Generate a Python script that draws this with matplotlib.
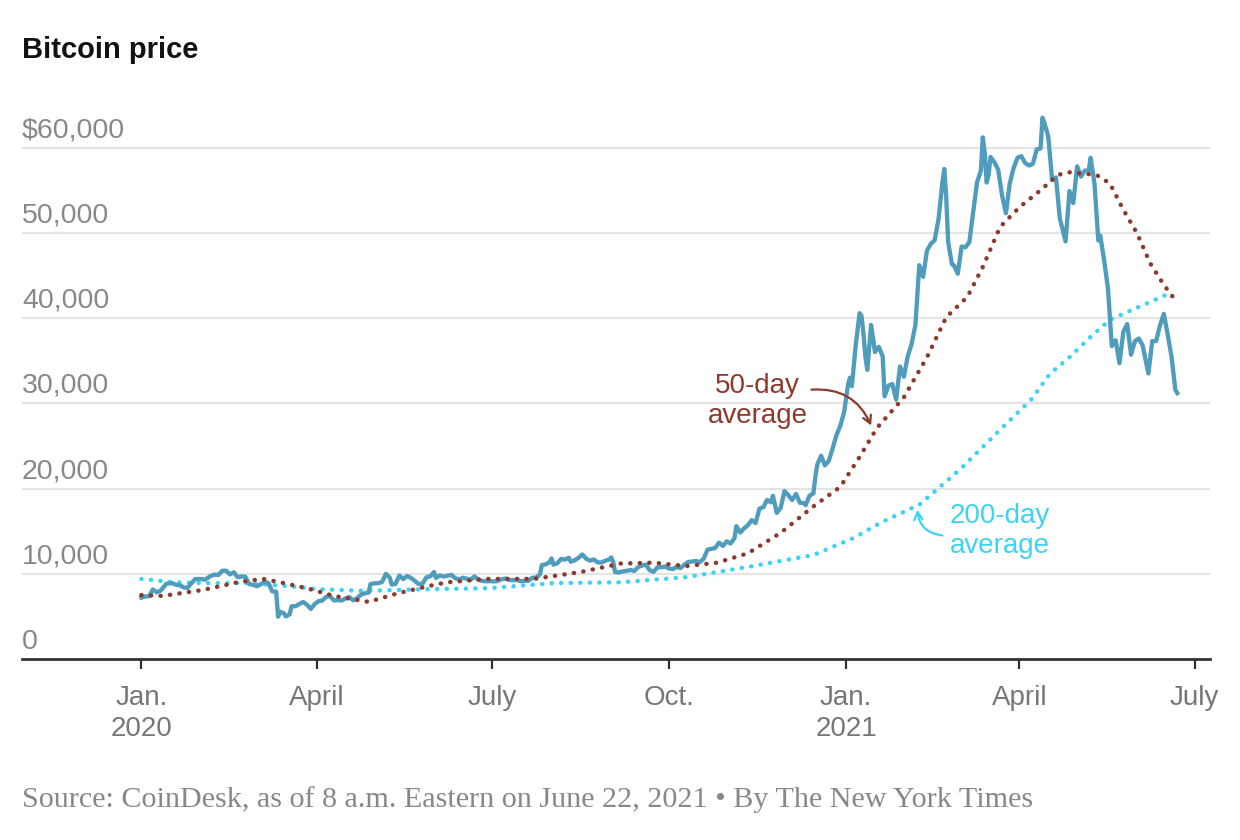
import matplotlib
matplotlib.use("Agg")
import matplotlib.pyplot as plt
import matplotlib.transforms as mtransforms
import pandas as pd

# ---------------- data ----------------
price_dates = [
    "2020-01-01", "2020-01-03", "2020-01-05", "2020-01-07", "2020-01-09", "2020-01-11", "2020-01-14",
    "2020-01-17", "2020-01-19", "2020-01-21", "2020-01-23", "2020-01-25", "2020-01-27", "2020-01-29",
    "2020-02-01", "2020-02-03", "2020-02-06", "2020-02-08", "2020-02-10", "2020-02-12", "2020-02-14",
    "2020-02-16", "2020-02-18", "2020-02-20", "2020-02-22", "2020-02-24", "2020-02-26", "2020-02-28",
    "2020-03-01", "2020-03-03", "2020-03-05", "2020-03-07", "2020-03-09", "2020-03-11", "2020-03-12",
    "2020-03-13", "2020-03-15", "2020-03-16", "2020-03-18", "2020-03-19", "2020-03-21", "2020-03-23",
    "2020-03-25", "2020-03-27", "2020-03-29", "2020-03-31", "2020-04-02", "2020-04-04", "2020-04-06",
    "2020-04-08", "2020-04-10", "2020-04-12", "2020-04-14", "2020-04-16", "2020-04-18", "2020-04-20",
    "2020-04-22", "2020-04-24", "2020-04-26", "2020-04-28", "2020-04-29", "2020-05-01", "2020-05-03",
    "2020-05-05", "2020-05-07", "2020-05-09", "2020-05-10", "2020-05-12", "2020-05-14", "2020-05-16",
    "2020-05-18", "2020-05-20", "2020-05-22", "2020-05-24", "2020-05-26", "2020-05-28", "2020-05-30",
    "2020-06-01", "2020-06-02", "2020-06-04", "2020-06-06", "2020-06-08", "2020-06-10", "2020-06-12",
    "2020-06-14", "2020-06-16", "2020-06-18", "2020-06-20", "2020-06-22", "2020-06-24", "2020-06-26",
    "2020-06-28", "2020-06-30", "2020-07-02", "2020-07-04", "2020-07-06", "2020-07-08", "2020-07-10",
    "2020-07-12", "2020-07-14", "2020-07-16", "2020-07-18", "2020-07-20", "2020-07-22", "2020-07-24",
    "2020-07-26", "2020-07-27", "2020-07-29", "2020-07-31", "2020-08-01", "2020-08-02", "2020-08-04",
    "2020-08-06", "2020-08-08", "2020-08-10", "2020-08-11", "2020-08-13", "2020-08-15", "2020-08-17",
    "2020-08-19", "2020-08-21", "2020-08-23", "2020-08-25", "2020-08-27", "2020-08-29", "2020-08-31",
    "2020-09-01", "2020-09-02", "2020-09-03", "2020-09-05", "2020-09-07", "2020-09-09", "2020-09-11",
    "2020-09-13", "2020-09-15", "2020-09-17", "2020-09-19", "2020-09-21", "2020-09-23", "2020-09-25",
    "2020-09-27", "2020-09-29", "2020-10-01", "2020-10-03", "2020-10-05", "2020-10-07", "2020-10-09",
    "2020-10-11", "2020-10-13", "2020-10-15", "2020-10-17", "2020-10-19", "2020-10-21", "2020-10-23",
    "2020-10-25", "2020-10-27", "2020-10-29", "2020-10-31", "2020-11-02", "2020-11-04", "2020-11-05",
    "2020-11-07", "2020-11-09", "2020-11-11", "2020-11-13", "2020-11-15", "2020-11-17", "2020-11-19",
    "2020-11-21", "2020-11-23", "2020-11-24", "2020-11-26", "2020-11-28", "2020-11-30", "2020-12-02",
    "2020-12-04", "2020-12-06", "2020-12-08", "2020-12-10", "2020-12-11", "2020-12-13", "2020-12-15",
    "2020-12-16", "2020-12-17", "2020-12-19", "2020-12-21", "2020-12-23", "2020-12-25", "2020-12-27",
    "2020-12-29", "2020-12-31",
    "2021-01-02", "2021-01-03", "2021-01-04", "2021-01-06", "2021-01-08", "2021-01-09", "2021-01-10",
    "2021-01-11", "2021-01-12", "2021-01-14", "2021-01-16", "2021-01-18", "2021-01-20", "2021-01-21",
    "2021-01-23", "2021-01-25", "2021-01-27", "2021-01-29", "2021-01-31", "2021-02-02", "2021-02-04",
    "2021-02-06", "2021-02-08", "2021-02-10", "2021-02-12", "2021-02-14", "2021-02-16", "2021-02-18",
    "2021-02-20", "2021-02-21", "2021-02-22", "2021-02-23", "2021-02-25", "2021-02-26", "2021-02-28",
    "2021-03-02", "2021-03-04", "2021-03-06", "2021-03-08", "2021-03-10", "2021-03-12", "2021-03-13",
    "2021-03-14", "2021-03-15", "2021-03-16", "2021-03-17", "2021-03-19", "2021-03-21", "2021-03-23",
    "2021-03-25", "2021-03-27", "2021-03-29", "2021-03-31", "2021-04-02", "2021-04-04", "2021-04-06",
    "2021-04-08", "2021-04-10", "2021-04-12", "2021-04-13", "2021-04-14", "2021-04-16", "2021-04-18",
    "2021-04-20", "2021-04-22", "2021-04-25", "2021-04-27", "2021-04-29", "2021-05-01", "2021-05-03",
    "2021-05-05", "2021-05-07", "2021-05-08", "2021-05-10", "2021-05-12", "2021-05-13", "2021-05-15",
    "2021-05-17", "2021-05-19", "2021-05-21", "2021-05-23", "2021-05-25", "2021-05-27", "2021-05-29",
    "2021-05-31", "2021-06-02", "2021-06-04", "2021-06-07", "2021-06-09", "2021-06-11", "2021-06-13",
    "2021-06-15", "2021-06-17", "2021-06-19", "2021-06-21", "2021-06-22",
]
price_values = [
    7200, 7340, 7360, 8160, 7830, 8030, 8830,
    8900, 8700, 8650, 8400, 8340, 8900, 9390,
    9390, 9300, 9750, 9900, 9860, 10350, 10360,
    9920, 10180, 9600, 9690, 9650, 8790, 8700,
    8540, 8760, 9070, 8900, 7930, 7910, 4970,
    5560, 5360, 5010, 5230, 6190, 6190, 6450,
    6690, 6370, 5880, 6440, 6790, 6860, 7300,
    7370, 6870, 6910, 6860, 7110, 7260, 6880,
    7120, 7550, 7700, 7790, 8800, 8870, 8900,
    9030, 9990, 9550, 8730, 8820, 9790, 9380,
    9730, 9520, 9170, 8790, 8840, 9580, 9700,
    10200, 9520, 9800, 9670, 9780, 9870, 9480,
    9340, 9530, 9410, 9300, 9690, 9310, 9160,
    9120, 9140, 9100, 9140, 9350, 9440, 9270,
    9250, 9260, 9130, 9170, 9170, 9530, 9550,
    9930, 11030, 11110, 11350, 11800, 11070, 11230,
    11750, 11660, 11880, 11410, 11580, 11860, 12260,
    11770, 11540, 11680, 11330, 11320, 11540, 11680,
    11920, 11400, 10200, 10150, 10280, 10340, 10440,
    10330, 10790, 10960, 11080, 10420, 10230, 10750,
    10770, 10840, 10620, 10550, 10790, 10670, 11060,
    11380, 11430, 11500, 11370, 11750, 12820, 12930,
    13030, 13650, 13270, 13800, 13550, 14150, 15590,
    14840, 15330, 15700, 16300, 15960, 17650, 17800,
    18680, 18370, 19150, 17150, 17720, 19700, 19220,
    18650, 19370, 18320, 18300, 18050, 19160, 19430,
    21310, 22800, 23840, 22720, 23240, 24700, 26270,
    27360, 28990,
    32170, 33000, 32020, 36820, 40580, 40250, 38240,
    35540, 33920, 39190, 36010, 36630, 35510, 30830,
    32080, 32260, 30430, 34320, 33110, 35510, 36930,
    39190, 46200, 44840, 47910, 48720, 49130, 51600,
    55900, 57500, 54200, 48900, 46300, 46200, 45200,
    48400, 48300, 48900, 52400, 55900, 57300, 61200,
    59400, 55900, 56800, 58900, 58300, 57400, 54400,
    52300, 55800, 57600, 58800, 59000, 58200, 57900,
    58100, 59800, 59900, 63500, 62900, 61300, 56200,
    56500, 51700, 49000, 54900, 53500, 57800, 56600,
    57300, 57300, 58800, 55800, 49100, 49700, 46800,
    43500, 36700, 37400, 34700, 38400, 39300, 35700,
    37300, 37600, 36800, 33500, 37300, 37300, 39100,
    40500, 38100, 35500, 31600, 31200,
]

ma50_dates = [
    "2020-01-01", "2020-01-12", "2020-02-02", "2020-02-20", "2020-03-04", "2020-03-13", "2020-03-27",
    "2020-04-10", "2020-04-28", "2020-05-13", "2020-05-30", "2020-06-08", "2020-06-29", "2020-07-23",
    "2020-08-16", "2020-09-06", "2020-09-23", "2020-10-10", "2020-10-26", "2020-11-11", "2020-11-28",
    "2020-12-15", "2020-12-29", "2021-01-08", "2021-01-17", "2021-01-31", "2021-02-12", "2021-02-22",
    "2021-03-05", "2021-03-13", "2021-03-22", "2021-04-01", "2021-04-12", "2021-04-21", "2021-04-27",
    "2021-05-11", "2021-05-18", "2021-05-25", "2021-06-01", "2021-06-08", "2021-06-15", "2021-06-22",
]
ma50_values = [
    7500, 7400, 8100, 9000, 9400, 9000, 8300,
    7400, 6700, 7700, 8600, 9000, 9400, 9400,
    10200, 11200, 11300, 10900, 11300, 12400, 14800,
    17900, 20200, 23700, 27100, 30700, 35400, 40100,
    42500, 46000, 50700, 53000, 55000, 56800, 57100,
    56800, 55800, 52700, 50000, 46400, 43900, 41800,
]

ma200_dates = [
    "2020-01-01", "2020-01-18", "2020-02-06", "2020-02-25", "2020-03-15", "2020-04-01", "2020-04-25",
    "2020-05-13", "2020-05-30", "2020-06-29", "2020-08-02", "2020-09-06", "2020-10-10", "2020-11-11",
    "2020-12-15", "2021-01-05", "2021-01-19", "2021-02-08", "2021-03-01", "2021-03-22", "2021-04-07",
    "2021-04-17", "2021-04-27", "2021-05-08", "2021-05-18", "2021-05-29", "2021-06-08", "2021-06-18",
]
ma200_values = [
    9400, 9000, 8900, 8900, 8600, 8200, 8000,
    8100, 8200, 8300, 8900, 9000, 9600, 10800,
    12200, 14200, 16000, 18100, 22200, 26900, 30400,
    33500, 35400, 37800, 39800, 40900, 41900, 42900,
]

ytick_values = [0, 10000, 20000, 30000, 40000, 50000, 60000]
ytick_labels = ["0", "10,000", "20,000", "30,000", "40,000", "50,000", "$60,000"]
xtick_dates = ["2020-01-01", "2020-04-01", "2020-07-01", "2020-10-01",
               "2021-01-01", "2021-04-01", "2021-07-01"]
xtick_labels = ["Jan.\n2020", "April", "July", "Oct.", "Jan.\n2021", "April", "July"]

title = "Bitcoin price"
source = "Source: CoinDesk, as of 8 a.m. Eastern on June 22, 2021 \u2022 By The New York Times"

# ---------------- style ----------------
PRICE_C = "#4f9cbd"
MA50_C = "#8d3a2e"
MA200_C = "#3dd4f4"
GRID_C = "#e4e4e4"
AXIS_C = "#333333"

plt.rcParams["font.family"] = ["Liberation Sans", "DejaVu Sans"]

fig = plt.figure(figsize=(12.4, 8.4), dpi=100)
ax = fig.add_axes([22 / 1240, (840 - 659) / 840, (1210 - 22) / 1240, (659 - 105) / 840])

px = pd.to_datetime(price_dates)
m50x = pd.to_datetime(ma50_dates)
m200x = pd.to_datetime(ma200_dates)

ax.set_xlim(pd.Timestamp("2019-10-31"), pd.Timestamp("2021-07-09"))
ax.set_ylim(0, 65000)

# gridlines
for v in ytick_values[1:]:
    ax.axhline(v, color=GRID_C, lw=1.6, zorder=0)

dots = (0, (0.05, 2.1))
ax.plot(m200x, ma200_values, color=MA200_C, lw=3.2, linestyle=dots,
        dash_capstyle="round", zorder=2)
ax.plot(px, price_values, color=PRICE_C, lw=3.1, solid_joinstyle="round", zorder=3)
ax.plot(m50x, ma50_values, color=MA50_C, lw=3.2, linestyle=dots,
        dash_capstyle="round", zorder=4)

# spines
for s in ["top", "right", "left"]:
    ax.spines[s].set_visible(False)
ax.spines["bottom"].set_color(AXIS_C)
ax.spines["bottom"].set_linewidth(2.0)

# y labels (inside, above gridlines)
ax.set_yticks([])
trans = mtransforms.blended_transform_factory(ax.transAxes, ax.transData)
for v, lab in zip(ytick_values, ytick_labels):
    ax.annotate(lab, xy=(0, v), xycoords=trans, xytext=(0, 7.5), textcoords="offset points",
                ha="left", va="baseline", fontsize=20.5, color="#888888")

# x ticks
ax.set_xticks(pd.to_datetime(xtick_dates))
ax.set_xticklabels(xtick_labels, fontsize=20, color="#777777", linespacing=1.25)
ax.tick_params(axis="x", length=7, width=1.6, color=AXIS_C, pad=12)

# annotations
ax.text(pd.Timestamp("2020-11-16"), 30300, "50-day\naverage", ha="center", va="center",
        fontsize=20, color=MA50_C, linespacing=1.2)
ax.annotate("", xy=(pd.Timestamp("2021-01-14"), 27400), xytext=(pd.Timestamp("2020-12-14"), 31600),
            arrowprops=dict(arrowstyle="->,head_length=0.55,head_width=0.3", color=MA50_C, lw=1.6,
                            connectionstyle="arc3,rad=-0.35", shrinkA=0, shrinkB=0))

ax.text(pd.Timestamp("2021-03-22"), 15000, "200-day\naverage", ha="center", va="center",
        fontsize=20, color=MA200_C, linespacing=1.2)
ax.annotate("", xy=(pd.Timestamp("2021-02-07"), 17500), xytext=(pd.Timestamp("2021-02-20"), 14500),
            arrowprops=dict(arrowstyle="->,head_length=0.55,head_width=0.3", color=MA200_C, lw=1.6,
                            connectionstyle="arc3,rad=-0.4", shrinkA=0, shrinkB=0))

# title and source
fig.text(22 / 1240, 1 - 50 / 840, title, fontsize=21, fontweight="bold", color="#121212",
         ha="left", va="center")
fig.text(22 / 1240, 1 - 800 / 840, source, fontsize=21.7, color="#888888",
         family=["Liberation Serif", "DejaVu Serif"], ha="left", va="center")

fig.savefig("out.png", dpi=100)
